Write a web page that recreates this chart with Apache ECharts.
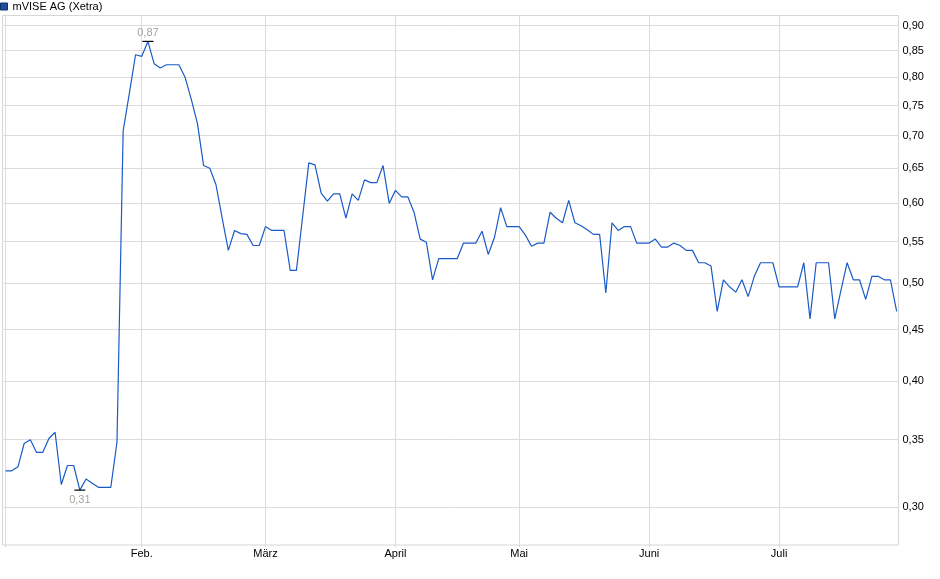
<!DOCTYPE html>
<html>
<head>
<meta charset="utf-8">
<script src="https://cdn.jsdelivr.net/npm/echarts@6/dist/echarts.min.js"></script>
<style>html,body{margin:0;padding:0;background:#fff}#c{width:940px;height:579px}</style>
</head>
<body>
<div id="c"></div>
<script>
const seriesName = 'mVISE AG (Xetra)';
const startDate = '2025-01-02';
const endDate = '2025-07-28';
const holidays = ['2025-04-18', '2025-04-21', '2025-05-01'];
const monthLabels = ['Jan.', 'Feb.', 'März', 'April', 'Mai', 'Juni', 'Juli', 'Aug.'];
const yTicks = [0.30, 0.35, 0.40, 0.45, 0.50, 0.55, 0.60, 0.65, 0.70, 0.75, 0.80, 0.85, 0.90];
const yMin = 0.2753;
const yMax = 0.9208;

const prices = [
  0.326, 0.326, 0.329, 0.347, 0.350, 0.340, 0.340, 0.351, 0.356, 0.316,
  0.330, 0.330, 0.312, 0.320, 0.317, 0.314, 0.314, 0.314, 0.348, 0.708,
  0.771, 0.842, 0.839, 0.868, 0.825, 0.817, 0.823, 0.823, 0.823, 0.800,
  0.761, 0.720, 0.654, 0.650, 0.626, 0.580, 0.539, 0.564, 0.560, 0.559,
  0.545, 0.545, 0.569, 0.564, 0.564, 0.564, 0.515, 0.515, 0.582, 0.658,
  0.655, 0.614, 0.603, 0.613, 0.613, 0.580, 0.613, 0.604, 0.633, 0.629,
  0.629, 0.654, 0.600, 0.618, 0.609, 0.609, 0.588, 0.553, 0.549, 0.504,
  0.529, 0.529, 0.529, 0.529, 0.548, 0.548, 0.548, 0.563, 0.534, 0.555,
  0.594, 0.569, 0.569, 0.569, 0.558, 0.544, 0.548, 0.548, 0.588, 0.580,
  0.574, 0.604, 0.574, 0.570, 0.565, 0.559, 0.559, 0.489, 0.574, 0.564,
  0.569, 0.569, 0.548, 0.548, 0.548, 0.553, 0.543, 0.543, 0.548, 0.545,
  0.539, 0.539, 0.524, 0.524, 0.520, 0.469, 0.504, 0.496, 0.490, 0.504,
  0.485, 0.508, 0.524, 0.524, 0.524, 0.496, 0.496, 0.496, 0.496, 0.524,
  0.461, 0.524, 0.524, 0.524, 0.461, 0.492, 0.524, 0.504, 0.504, 0.482,
  0.508, 0.508, 0.504, 0.504, 0.469
];

function tradingDays(from, to, closed) {
  const out = [];
  const d = new Date(from + 'T00:00:00Z');
  const end = new Date(to + 'T00:00:00Z');
  while (d <= end) {
    const s = d.toISOString().slice(0, 10);
    const wd = d.getUTCDay();
    if (wd !== 0 && wd !== 6 && closed.indexOf(s) < 0) out.push(s);
    d.setUTCDate(d.getUTCDate() + 1);
  }
  return out;
}
const dates = tradingDays(startDate, endDate, holidays);
const monthStarts = [];
dates.forEach((d, i) => {
  if (i === 0 || d.slice(0, 7) !== dates[i - 1].slice(0, 7)) monthStarts.push(i);
});

const fmt = v => Math.exp(v).toFixed(2).replace('.', ',');
const yTickLn = yTicks.map(v => Math.log(v));
const font = 'Liberation Sans, Arial, sans-serif';

const chart = echarts.init(document.getElementById('c'), null, { renderer: 'canvas' });
chart.setOption({
  animation: false,
  backgroundColor: '#fff',
  legend: {
    left: 0, top: 1, padding: 0,
    itemWidth: 7, itemHeight: 7, icon: 'rect',
    selectedMode: false,
    textStyle: { fontSize: 11, color: '#000', fontFamily: font },
    data: [{ name: seriesName, itemStyle: { color: '#1f4e9c', borderColor: '#10306a', borderWidth: 1 } }]
  },
  grid: {
    left: 2.5, right: 41.5, top: 15.5, bottom: 34,
    show: true, borderColor: '#d6d6d6', borderWidth: 1,
    containLabel: false, outerBoundsMode: 'none'
  },
  xAxis: {
    type: 'value',
    min: -0.5,
    max: prices.length - 1 + 0.3,
    axisLine: { show: false },
    axisTick: { show: true, length: 2, customValues: monthStarts, lineStyle: { color: '#d6d6d6' } },
    axisLabel: {
      customValues: monthStarts.slice(1),
      formatter: v => monthLabels[parseInt(dates[Math.round(v)].slice(5, 7), 10) - 1],
      margin: 3, fontSize: 11, color: '#000', fontFamily: font
    },
    splitLine: { show: true, lineStyle: { color: '#dcdcdc', width: 1 } }
  },
  yAxis: {
    type: 'value',
    position: 'right',
    min: Math.log(yMin),
    max: Math.log(yMax),
    axisLine: { show: false },
    axisTick: { show: false, customValues: yTickLn },
    axisLabel: { customValues: yTickLn, formatter: fmt, margin: 4, fontSize: 11, color: '#000', fontFamily: font },
    splitLine: { show: true, lineStyle: { color: '#dcdcdc', width: 1 } }
  },
  series: [{
    name: seriesName,
    type: 'line',
    data: prices.map((v, i) => [i, Math.log(v)]),
    showSymbol: false,
    symbol: 'none',
    color: '#1f4e9c',
    lineStyle: { color: '#1a5ac8', width: 1.2 },
    silent: true,
    markPoint: {
      symbol: 'rect',
      symbolSize: [11, 1.2],
      itemStyle: { color: '#000' },
      silent: true,
      label: {
        color: '#a9a39b', fontSize: 11, fontFamily: font,
        formatter: p => fmt(p.value)
      },
      data: [
        { type: 'max', valueDim: 'y', label: { position: 'top', distance: 2 } },
        { type: 'min', valueDim: 'y', label: { position: 'bottom', distance: 4 } }
      ]
    }
  }]
});
</script>
</body>
</html>
